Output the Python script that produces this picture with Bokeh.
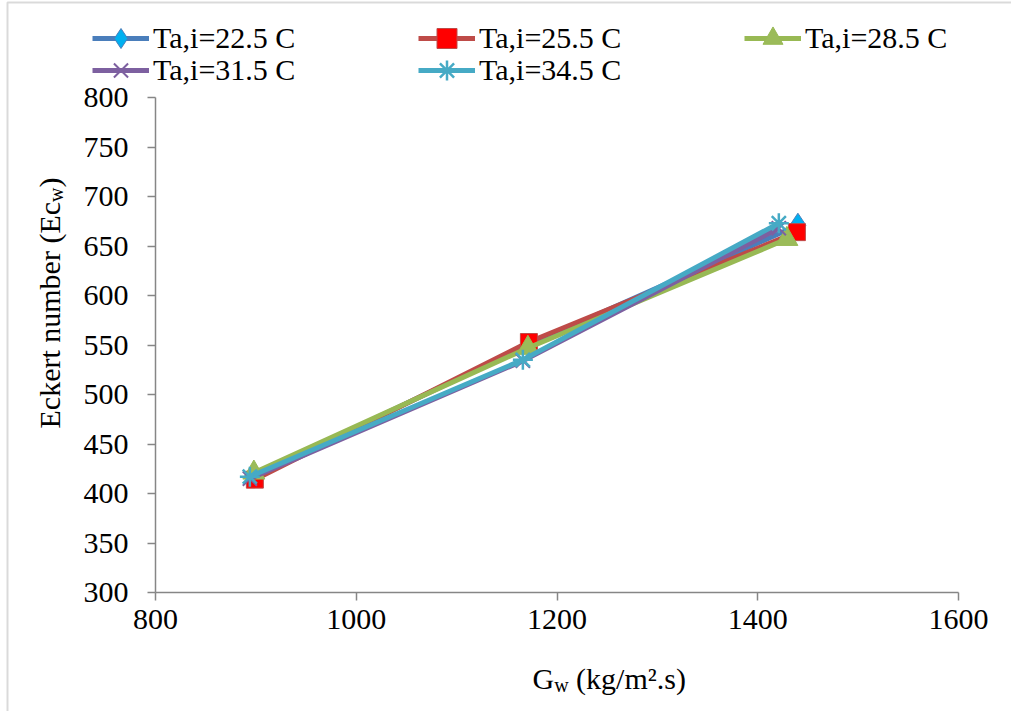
import numpy as np
from bokeh.plotting import figure
from bokeh.models import Legend, LegendItem, Label, Range1d, FixedTicker, BoxAnnotation
from bokeh.embed import file_html
from bokeh.resources import INLINE

# ---------------- data ----------------
series_names = ["Ta,i=22.5 C", "Ta,i=25.5 C", "Ta,i=28.5 C", "Ta,i=31.5 C", "Ta,i=34.5 C"]

gw_225 = [899, 1172, 1440]
ec_225 = [418, 550, 671]

gw_255 = [899, 1172, 1439]
ec_255 = [414, 553, 664]

gw_285 = [898, 1171, 1429]
ec_285 = [421, 547, 657]

gw_315 = [894, 1166, 1421]
ec_315 = [415, 534, 668]

gw_345 = [894, 1166, 1421]
ec_345 = [417, 535, 673]

x_ticks = [800, 1000, 1200, 1400, 1600]
y_ticks = [300, 350, 400, 450, 500, 550, 600, 650, 700, 750, 800]

# ---------------- layout ----------------
FONT = "Liberation Serif"
W, H = 1011, 711
# plot area (in picture pixels) of the reference
AX_L, AX_R, AX_T, AX_B = 155, 958, 97, 592
X0, X1 = 800, 1600
Y0, Y1 = 300, 800
kx = (X1 - X0) / (AX_R - AX_L)
ky = (Y1 - Y0) / (AX_B - AX_T)
XS, XE = X0 - AX_L * kx, X0 + (W - AX_L) * kx
YS, YE = Y0 - (H - AX_B) * ky, Y1 + AX_T * ky


def px_x(page_x):
    return XS + page_x * (XE - XS) / W


def px_y(page_y):
    return YE - page_y * (YE - YS) / H


p = figure(width=W, height=H, output_backend="svg", toolbar_location=None,
           x_range=Range1d(XS, XE), y_range=Range1d(YS, YE),
           min_border_left=0, min_border_right=0,
           min_border_top=0, min_border_bottom=0)
p.outline_line_color = None
p.grid.grid_line_color = None
p.background_fill_color = "white"
p.border_fill_color = "white"

p.xaxis.ticker = FixedTicker(ticks=x_ticks)
p.yaxis.ticker = FixedTicker(ticks=y_ticks)
p.xaxis[0].fixed_location = Y0
p.xaxis[0].bounds = (X0, X1)
p.yaxis[0].fixed_location = X0
p.yaxis[0].bounds = (Y0, Y1)
for ax in (p.xaxis[0], p.yaxis[0]):
    ax.axis_line_color = "#868686"
    ax.axis_line_width = 1.5
    ax.major_tick_line_color = "#868686"
    ax.major_tick_line_width = 1.5
    ax.major_tick_out = 8
    ax.major_tick_in = 0
    ax.minor_tick_line_color = None
    ax.major_label_text_font = FONT
    ax.major_label_text_font_size = "30px"
    ax.major_label_text_color = "black"
p.xaxis[0].major_label_standoff = 9
p.yaxis[0].major_label_standoff = 19

# chart-area border (left and top edges visible in the reference)
p.add_layout(BoxAnnotation(left=px_x(7), top=px_y(2), right=px_x(W + 20), bottom=px_y(H + 20),
                           fill_alpha=0, line_color="#868686", line_width=2))

styles = [
    dict(line="#4A7EBB", marker="diamond", size=24, fill="#00B0F0", mline="#4A7EBB", mlw=1),
    dict(line="#BE4B48", marker="square", size=17, fill="#FF0000", mline="#BE4B48", mlw=1),
    dict(line="#98B954", marker="triangle", size=22, fill="#9BBB59", mline="#98B954", mlw=1),
    dict(line="#7D60A0", marker="x", size=20, fill=None, mline="#7D60A0", mlw=2),
    dict(line="#46AAC5", marker="asterisk", size=20, fill=None, mline="#46AAC5", mlw=2.5),
]
data = [(gw_225, ec_225), (gw_255, ec_255), (gw_285, ec_285), (gw_315, ec_315), (gw_345, ec_345)]

items = []
for name, (gx, ey), st in zip(series_names, data, styles):
    lr = p.line(gx, ey, line_color=st["line"], line_width=5)
    sr = p.scatter(gx, ey, marker=st["marker"], size=st["size"],
                   fill_color=st["fill"], line_color=st["mline"], line_width=st["mlw"])
    items.append(LegendItem(label=name, renderers=[lr, sr]))

GLYPH_H = 50
legend_kw = dict(orientation="horizontal",
                 label_text_font=FONT, label_text_font_size="30px", label_text_color="black",
                 glyph_width=57, glyph_height=GLYPH_H, label_standoff=4, label_width=265,
                 spacing=0, padding=0, margin=0, border_line_color=None,
                 background_fill_alpha=0)
row1_center, row2_center = 38, 70
p.add_layout(Legend(items=items[:3], location=(92, H - (row1_center + GLYPH_H / 2)), **legend_kw), "center")
p.add_layout(Legend(items=items[3:], location=(92, H - (row2_center + GLYPH_H / 2)), **legend_kw), "center")

# ---------------- axis titles (with subscripts) ----------------
def lab(text, page_x, page_y, size, angle=0.0):
    p.add_layout(Label(x=px_x(page_x), y=px_y(page_y), text=text, angle=angle,
                       text_font=FONT, text_font_size=size, text_color="black",
                       text_align="left", text_baseline="alphabetic"))

# y title: reads bottom to top
YB = 49
lab("Eckert number (Ec", YB, 428, "30px", np.pi / 2)
lab("w", YB + 6, 428 - 226.6, "20px", np.pi / 2)
lab(")", YB, 428 - 226.6 - 14.4, "30px", np.pi / 2)

# x title
XB = 678
lab("G", 532, XB, "30px")
lab("w", 532 + 21.7, XB + 6, "20px")
lab("(kg/m\u00b2.s)", 532 + 21.7 + 14.4 + 7.5, XB, "30px")

open("out.html", "w").write(file_html(p, INLINE))
